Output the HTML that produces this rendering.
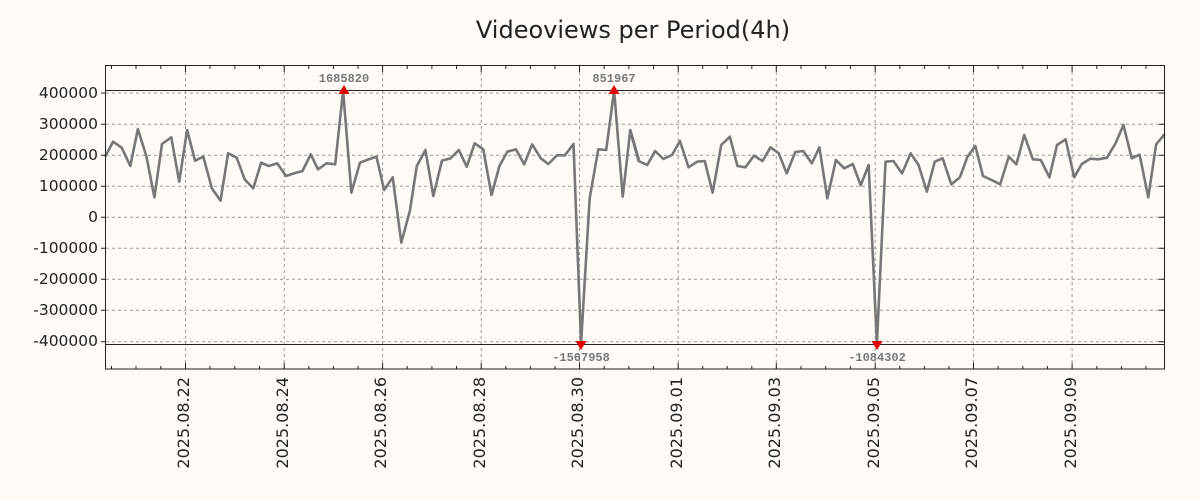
<!DOCTYPE html>
<html><head><meta charset="utf-8"><style>
html,body{margin:0;padding:0;background:#fffaf5;}
svg{display:block;}
.t{font-family:"DejaVu Sans","Liberation Sans",sans-serif;fill:#222;}
.a{font-family:"Liberation Mono","DejaVu Sans Mono",monospace;font-weight:bold;fill:#777;font-size:12px;}
</style></head><body>
<svg width="1200" height="500" viewBox="0 0 1200 500" xmlns="http://www.w3.org/2000/svg">
<rect width="1200" height="500" fill="#fffaf5"/>
<text class="t" x="633" y="38" font-size="24" text-anchor="middle">Videoviews per Period(4h)</text>
<g stroke="#999" stroke-width="1" stroke-dasharray="3,3">
<line x1="106" x2="1164" y1="93" y2="93"/><line x1="106" x2="1164" y1="124.3" y2="124.3"/>
<line x1="106" x2="1164" y1="155.3" y2="155.3"/><line x1="106" x2="1164" y1="186.3" y2="186.3"/>
<line x1="106" x2="1164" y1="217.3" y2="217.3"/><line x1="106" x2="1164" y1="248.3" y2="248.3"/>
<line x1="106" x2="1164" y1="279.3" y2="279.3"/><line x1="106" x2="1164" y1="310.3" y2="310.3"/>
<line x1="106" x2="1164" y1="341.7" y2="341.7"/>
<line y1="66" y2="369" x1="185.5" x2="185.5"/><line y1="66" y2="369" x1="284.2" x2="284.2"/>
<line y1="66" y2="369" x1="382.6" x2="382.6"/><line y1="66" y2="369" x1="481.2" x2="481.2"/>
<line y1="66" y2="369" x1="579.5" x2="579.5"/><line y1="66" y2="369" x1="678.2" x2="678.2"/>
<line y1="66" y2="369" x1="776.3" x2="776.3"/><line y1="66" y2="369" x1="875.2" x2="875.2"/>
<line y1="66" y2="369" x1="973.5" x2="973.5"/><line y1="66" y2="369" x1="1072.1" x2="1072.1"/>
</g>
<line x1="106" x2="1164" y1="90.5" y2="90.5" stroke="#222" stroke-width="1"/>
<line x1="106" x2="1164" y1="344.5" y2="344.5" stroke="#222" stroke-width="1"/>
<g stroke="#777" stroke-width="2.6" fill="none" stroke-linejoin="round">
<polyline vector-effect="non-scaling-stroke" transform="translate(100,60) scale(0.34435,0.33333)" points="15,290 38,245 63,263 88,318 110,207 135,290 158,412 180,252 207,232 230,365 253,210 276,302 300,290 325,385 350,422 372,280 397,293 420,358 445,385 468,308 490,318 515,310 540,348 563,340 588,333 612,283 633,328 658,310 683,313 706,92 730,398 755,308 780,298 803,290 825,390 850,352 875,548 900,452 920,318 945,270 968,408 993,302 1018,295 1042,270 1065,320 1088,250 1113,268 1137,405 1160,318 1183,275 1208,268 1232,313 1255,253 1280,295 1302,312 1327,286 1350,286 1375,252 1397,850 1422,415 1447,268 1470,270 1493,92 1518,410 1540,210 1565,300"/>
<polyline vector-effect="non-scaling-stroke" transform="translate(630,60) scale(0.34435,0.33333)" points="0,210 25,303 50,315 73,273 97,297 122,285 145,243 170,322 195,305 217,303 240,398 265,255 290,230 312,318 335,322 360,287 385,303 408,262 432,280 455,340 480,276 503,273 528,310 550,262 573,415 598,300 622,325 647,312 670,376 693,315 717,850 742,305 765,303 790,340 815,280 838,315 862,395 885,305 908,295 933,373 958,352 980,290 1003,258 1025,348 1050,360 1075,373 1100,290 1122,313 1145,225 1170,298 1193,300 1218,352 1240,255 1265,238 1290,352 1312,312 1337,296 1360,298 1385,293 1410,250 1433,195 1457,295 1480,284 1505,412 1528,253 1553,222"/>
</g>
<g fill="#e00000">
<polygon points="338.5,94 349.5,94 344,85"/><polygon points="608.5,94 619.5,94 614,85"/>
<polygon points="575.5,341 586.5,341 581,350"/><polygon points="871.5,341 882.5,341 877,350"/>
</g>
<text class="a" x="344" y="82" text-anchor="middle">1685820</text>
<text class="a" x="614" y="82" text-anchor="middle">851967</text>
<text class="a" x="581" y="361" text-anchor="middle">-1567958</text>
<text class="a" x="877" y="361" text-anchor="middle">-1084302</text>
<rect x="105.5" y="65.5" width="1059" height="303.5" fill="none" stroke="#222" stroke-width="1"/>
<g stroke="#222" stroke-width="1">
<path d="M101,93h5M101,124.3h5M101,155.3h5M101,186.3h5M101,217.3h5M101,248.3h5M101,279.3h5M101,310.3h5M101,341.7h5"/>
<path d="M1159,93h5M1159,124.3h5M1159,155.3h5M1159,186.3h5M1159,217.3h5M1159,248.3h5M1159,279.3h5M1159,310.3h5M1159,341.7h5"/>
<path d="M185.5,369v-6M284.2,369v-6M382.6,369v-6M481.2,369v-6M579.5,369v-6M678.2,369v-6M776.3,369v-6M875.2,369v-6M973.5,369v-6M1072.1,369v-6"/>
<path d="M185.5,66v6M284.2,66v6M382.6,66v6M481.2,66v6M579.5,66v6M678.2,66v6M776.3,66v6M875.2,66v6M973.5,66v6M1072.1,66v6"/>
<path d="M111.5,369v-3M136,369v-3M160.8,369v-3M210,369v-3M234.8,369v-3M259.5,369v-3M308.8,369v-3M333.4,369v-3M358,369v-3M407.2,369v-3M431.9,369v-3M456.5,369v-3M505.8,369v-3M530.4,369v-3M555,369v-3M604.2,369v-3M628.9,369v-3M653.5,369v-3M702.7,369v-3M727.2,369v-3M751.8,369v-3M801,369v-3M825.7,369v-3M850.4,369v-3M899.8,369v-3M924.4,369v-3M949,369v-3M998.1,369v-3M1022.8,369v-3M1047.4,369v-3M1096.8,369v-3M1121.4,369v-3M1146,369v-3"/>
<path d="M111.5,66v3M136,66v3M160.8,66v3M210,66v3M234.8,66v3M259.5,66v3M308.8,66v3M333.4,66v3M358,66v3M407.2,66v3M431.9,66v3M456.5,66v3M505.8,66v3M530.4,66v3M555,66v3M604.2,66v3M628.9,66v3M653.5,66v3M702.7,66v3M727.2,66v3M751.8,66v3M801,66v3M825.7,66v3M850.4,66v3M899.8,66v3M924.4,66v3M949,66v3M998.1,66v3M1022.8,66v3M1047.4,66v3M1096.8,66v3M1121.4,66v3M1146,66v3"/>
</g>
<g class="t" font-size="15.5" text-anchor="end">
<text x="98" y="98">400000</text><text x="98" y="129">300000</text><text x="98" y="160">200000</text>
<text x="98" y="191">100000</text><text x="98" y="222">0</text><text x="98" y="253">-100000</text>
<text x="98" y="284">-200000</text><text x="98" y="315">-300000</text><text x="98" y="346">-400000</text>
</g>
<g class="t" font-size="16" text-anchor="end">
<text transform="translate(189,377) rotate(-90)">2025.08.22</text>
<text transform="translate(288,377) rotate(-90)">2025.08.24</text>
<text transform="translate(386,377) rotate(-90)">2025.08.26</text>
<text transform="translate(485,377) rotate(-90)">2025.08.28</text>
<text transform="translate(583,377) rotate(-90)">2025.08.30</text>
<text transform="translate(682,377) rotate(-90)">2025.09.01</text>
<text transform="translate(780,377) rotate(-90)">2025.09.03</text>
<text transform="translate(879,377) rotate(-90)">2025.09.05</text>
<text transform="translate(977,377) rotate(-90)">2025.09.07</text>
<text transform="translate(1076,377) rotate(-90)">2025.09.09</text>
</g>
</svg>
</body></html>
